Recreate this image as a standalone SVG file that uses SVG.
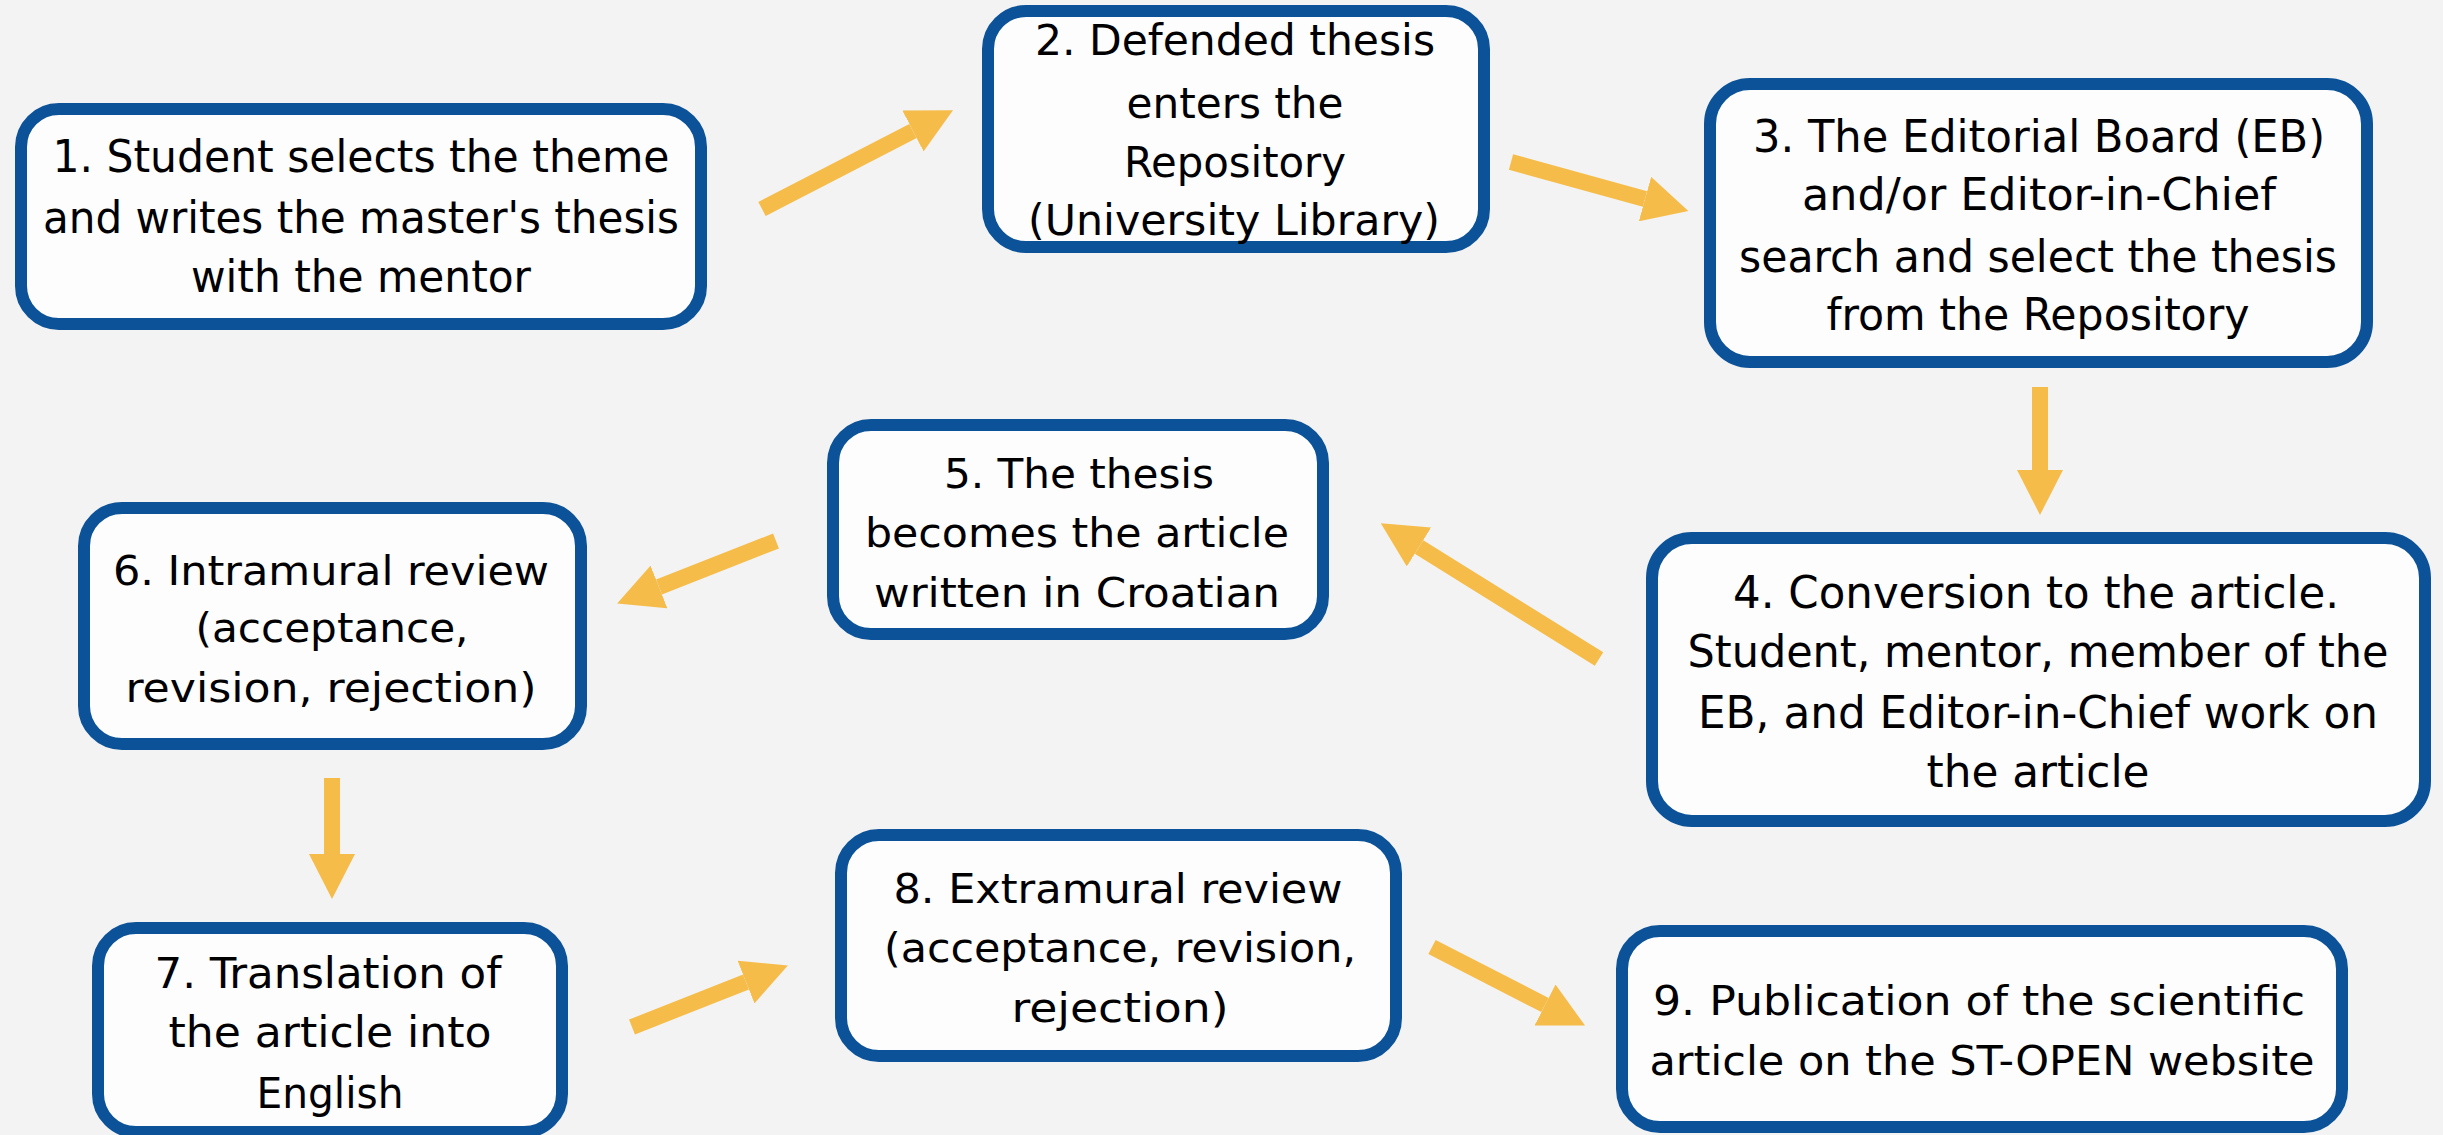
<svg xmlns="http://www.w3.org/2000/svg" width="2443" height="1135" viewBox="0 0 2443 1135">
<style>
.box{fill:#fdfdfd;stroke:#0c5298;stroke-width:12}
.t{font-family:"DejaVu Sans Condensed","DejaVu Sans",sans-serif;font-stretch:condensed;fill:#000;text-anchor:middle}
.c{stroke:#f6bc4a;stroke-width:16;fill:none;marker-end:url(#ah)}
</style>
<defs>
<marker id="ah" viewBox="0 0 45 46" refX="0" refY="23" markerWidth="45" markerHeight="46" markerUnits="userSpaceOnUse" orient="auto">
<path d="M0,0 L45,23 L0,46 Z" fill="#f6bc4a"/>
</marker>
</defs>
<rect width="2443" height="1135" fill="#f3f3f3"/>
<g id="connectors">
<line class="c" x1="762" y1="209" x2="913" y2="131"/>
<line class="c" x1="1511" y1="162" x2="1645" y2="199"/>
<line class="c" x1="2040" y1="387" x2="2040" y2="470"/>
<line class="c" x1="1599" y1="659" x2="1419" y2="547"/>
<line class="c" x1="776" y1="541" x2="659" y2="587"/>
<line class="c" x1="332" y1="778" x2="332" y2="854"/>
<line class="c" x1="632" y1="1027" x2="746" y2="982"/>
<line class="c" x1="1432" y1="947" x2="1545" y2="1005"/>
</g>
<g id="n1">
<rect class="box" x="21" y="109" width="680" height="215" rx="38"/>
<text class="t" font-size="44" x="361" y="172" textLength="617" lengthAdjust="spacingAndGlyphs">1. Student selects the theme</text>
<text class="t" font-size="44" x="361" y="233" textLength="636" lengthAdjust="spacingAndGlyphs">and writes the master's thesis</text>
<text class="t" font-size="44" x="361" y="292" textLength="340" lengthAdjust="spacingAndGlyphs">with the mentor</text>
</g>
<g id="n2">
<rect class="box" x="988" y="11" width="496" height="236" rx="38"/>
<text class="t" font-size="42" x="1235" y="55" textLength="400" lengthAdjust="spacingAndGlyphs">2. Defended thesis</text>
<text class="t" font-size="42" x="1235" y="118" textLength="217" lengthAdjust="spacingAndGlyphs">enters the</text>
<text class="t" font-size="42" x="1235" y="177" textLength="222" lengthAdjust="spacingAndGlyphs">Repository</text>
<text class="t" font-size="42" x="1234" y="235" textLength="412" lengthAdjust="spacingAndGlyphs">(University Library)</text>
</g>
<g id="n3">
<rect class="box" x="1710" y="84" width="657" height="278" rx="40"/>
<text class="t" font-size="45" x="2039" y="152" textLength="572" lengthAdjust="spacingAndGlyphs">3. The Editorial Board (EB)</text>
<text class="t" font-size="45" x="2039" y="210" textLength="474" lengthAdjust="spacingAndGlyphs">and/or Editor-in-Chief</text>
<text class="t" font-size="45" x="2038" y="272" textLength="598" lengthAdjust="spacingAndGlyphs">search and select the thesis</text>
<text class="t" font-size="45" x="2038" y="330" textLength="423" lengthAdjust="spacingAndGlyphs">from the Repository</text>
</g>
<g id="n4">
<rect class="box" x="1652" y="538" width="773" height="283" rx="40"/>
<text class="t" font-size="45" x="2036" y="608" textLength="606" lengthAdjust="spacingAndGlyphs">4. Conversion to the article.</text>
<text class="t" font-size="45" x="2038" y="667" textLength="701" lengthAdjust="spacingAndGlyphs">Student, mentor, member of the</text>
<text class="t" font-size="45" x="2038" y="728" textLength="680" lengthAdjust="spacingAndGlyphs">EB, and Editor-in-Chief work on</text>
<text class="t" font-size="45" x="2038" y="787" textLength="223" lengthAdjust="spacingAndGlyphs">the article</text>
</g>
<g id="n5">
<rect class="box" x="833" y="425" width="490" height="209" rx="38"/>
<text class="t" font-size="40" x="1079" y="488" textLength="270" lengthAdjust="spacingAndGlyphs">5. The thesis</text>
<text class="t" font-size="40" x="1077" y="547" textLength="424" lengthAdjust="spacingAndGlyphs">becomes the article</text>
<text class="t" font-size="40" x="1077" y="607" textLength="406" lengthAdjust="spacingAndGlyphs">written in Croatian</text>
</g>
<g id="n6">
<rect class="box" x="84" y="508" width="497" height="236" rx="38"/>
<text class="t" font-size="40" x="331" y="585" textLength="436" lengthAdjust="spacingAndGlyphs">6. Intramural review</text>
<text class="t" font-size="40" x="332" y="642" textLength="273" lengthAdjust="spacingAndGlyphs">(acceptance,</text>
<text class="t" font-size="40" x="331" y="702" textLength="411" lengthAdjust="spacingAndGlyphs">revision, rejection)</text>
</g>
<g id="n7">
<rect class="box" x="98" y="928" width="464" height="204" rx="38"/>
<text class="t" font-size="43" x="328" y="988" textLength="347" lengthAdjust="spacingAndGlyphs">7. Translation of</text>
<text class="t" font-size="43" x="330" y="1047" textLength="323" lengthAdjust="spacingAndGlyphs">the article into</text>
<text class="t" font-size="43" x="330" y="1108" textLength="147" lengthAdjust="spacingAndGlyphs">English</text>
</g>
<g id="n8">
<rect class="box" x="841" y="835" width="555" height="221" rx="38"/>
<text class="t" font-size="40" x="1118" y="903" textLength="449" lengthAdjust="spacingAndGlyphs">8. Extramural review</text>
<text class="t" font-size="40" x="1120" y="962" textLength="472" lengthAdjust="spacingAndGlyphs">(acceptance, revision,</text>
<text class="t" font-size="40" x="1120" y="1022" textLength="217" lengthAdjust="spacingAndGlyphs">rejection)</text>
</g>
<g id="n9">
<rect class="box" x="1622" y="931" width="720" height="196" rx="38"/>
<text class="t" font-size="40" x="1979" y="1015" textLength="652" lengthAdjust="spacingAndGlyphs">9. Publication of the scientific</text>
<text class="t" font-size="40" x="1982" y="1075" textLength="665" lengthAdjust="spacingAndGlyphs">article on the ST-OPEN website</text>
</g>
</svg>
